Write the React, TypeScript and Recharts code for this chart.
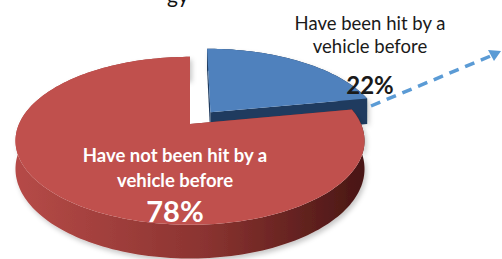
import React from 'react';
import { PieChart, Pie } from 'recharts';

const CATEGORIES = ['Have been hit by a vehicle before', 'Have not been hit by a vehicle before'];
const VALUES = [22, 78];
const LABEL_LINES = [
  ['Have been hit by a', 'vehicle before'],
  ['Have not been hit by a', 'vehicle before'],
];
const PERCENT_LABELS = ['22%', '78%'];
const TITLE_FRAGMENT = 'gy';

const data = CATEGORIES.map((name, i) => ({ name, value: VALUES[i] }));

// 3D look parameters (styling)
const PERSP = 0.2;
const TILT = 0.4713;
const DEPTH = 27;
const EXPLODE: Record<string, number> = {
  [CATEGORIES[0]]: 33,
  [CATEGORIES[1]]: 0,
};
const STYLE: Record<string, { top: string; wall: string; face: string; gradId: string; stops: string[] }> = {
  [CATEGORIES[0]]: { top: '#4f81bd', wall: '#1d3a5e', face: '#1f3b5f', gradId: 'gBlue', stops: ['#2a4a73', '#1a3354', '#12263f'] },
  [CATEGORIES[1]]: { top: '#c0504d', wall: '#8e3330', face: '#7a2b28', gradId: 'gRed', stops: ['#b54a47', '#8a3330', '#4a1715'] },
};

const FONT = 'Lato, "Open Sans", sans-serif';

function Slice3D(props: any) {
  const { cx, cy, outerRadius, startAngle, endAngle } = props;
  const name = (props.payload && props.payload.name) ?? props.name;
  const st = STYLE[name] ?? STYLE[CATEGORIES[1]];
  const R = outerRadius;
  const rad = Math.PI / 180;
  const mid = ((startAngle + endAngle) / 2) * rad;
  const ex = EXPLODE[name] ?? 0;
  const ou = ex * Math.cos(mid);
  const ov = ex * Math.sin(mid);
  const proj = (u: number, v: number, z: number): [number, number] => {
    const s = v / R;
    const d = 1 + PERSP * s;
    return [cx + u / d, cy - (TILT * R * s) / d + (z * DEPTH) / d];
  };
  const rim = (a: number, z: number) => proj(ou + R * Math.cos(a * rad), ov + R * Math.sin(a * rad), z);
  const n = Math.max(2, Math.ceil(Math.abs(endAngle - startAngle) / 1.5));
  const angles: number[] = [];
  for (let i = 0; i <= n; i++) angles.push(startAngle + ((endAngle - startAngle) * i) / n);
  const pt = (p: [number, number]) => `${p[0].toFixed(2)},${p[1].toFixed(2)}`;
  const apexTop = proj(ou, ov, 0);
  const apexBot = proj(ou, ov, 1);

  const topPath = `M${pt(apexTop)} ` + angles.map((a) => `L${pt(rim(a, 0))}`).join(' ') + ' Z';
  const wallPath =
    'M' + angles.map((a) => pt(rim(a, 0))).join(' L') + ' L' + angles.slice().reverse().map((a) => pt(rim(a, 1))).join(' L') + ' Z';
  const facePath = (a: number) => `M${pt(apexTop)} L${pt(rim(a, 0))} L${pt(rim(a, 1))} L${pt(apexBot)} Z`;

  return (
    <g>
      <defs>
        <linearGradient id={st.gradId} gradientUnits="userSpaceOnUse" x1={cx - R} y1={0} x2={cx + R} y2={0}>
          <stop offset="0%" stopColor={st.stops[0]} />
          <stop offset="55%" stopColor={st.stops[1]} />
          <stop offset="100%" stopColor={st.stops[2]} />
        </linearGradient>
        <filter id={`sh-${st.gradId}`} x="-10%" y="-10%" width="130%" height="140%">
          <feDropShadow dx="2" dy="3" stdDeviation="2.5" floodColor="#000" floodOpacity="0.22" />
        </filter>
      </defs>
      <path d={wallPath} fill={`url(#${st.gradId})`} filter={`url(#sh-${st.gradId})`} />
      <path d={facePath(startAngle)} fill={st.face} />
      <path d={facePath(endAngle)} fill={st.face} />
      <path d={topPath} fill={st.top} />
    </g>
  );
}

const LABEL_POS = [
  { x: 370, y1: 30, y2: 53, yp: 94, color: '#1a1a1a', weight: 400, size: 18.5, psize: 24 },
  { x: 175, y1: 162, y2: 187, yp: 222, color: '#ffffff', weight: 700, size: 18.5, psize: 29 },
];

function renderLabel(props: any) {
  const i = props.index;
  const p = LABEL_POS[i];
  if (!p) return null;
  const lines = LABEL_LINES[i];
  return (
    <g>
      {i === 0 && (
        <g>
          <line x1={371} y1={106} x2={493} y2={55} stroke="#5b9bd5" strokeWidth={3.5} strokeDasharray="10 7" />
          <polygon points="501,51 488,50 494,61" fill="#5b9bd5" />
        </g>
      )}
      <text x={p.x} y={p.y1} textAnchor="middle" fill={p.color} fontFamily={FONT} fontSize={p.size} fontWeight={p.weight}>
        {lines[0]}
      </text>
      <text x={p.x} y={p.y2} textAnchor="middle" fill={p.color} fontFamily={FONT} fontSize={p.size} fontWeight={p.weight}>
        {lines[1]}
      </text>
      <text x={p.x} y={p.yp} textAnchor="middle" fill={p.color} fontFamily={FONT} fontSize={p.psize} fontWeight={700}>
        {PERCENT_LABELS[i]}
      </text>
      {i === 0 && (
        <text x={167} y={3} fill="#111" fontFamily={FONT} fontSize={21}>
          {TITLE_FRAGMENT}
        </text>
      )}
    </g>
  );
}

export default function App() {
  return (
    <div style={{ position: 'absolute', left: 0, top: 0, width: 502, height: 259, background: '#fff' }}>
      <PieChart width={502} height={259} margin={{ top: 0, right: 0, bottom: 0, left: 0 }}>
        <Pie
          data={data}
          dataKey="value"
          nameKey="name"
          cx={190}
          cy={124}
          outerRadius={171}
          startAngle={90}
          endAngle={-270}
          stroke="none"
          labelLine={false}
          label={renderLabel}
          shape={Slice3D}
          isAnimationActive={false}
        />
      </PieChart>
    </div>
  );
}
